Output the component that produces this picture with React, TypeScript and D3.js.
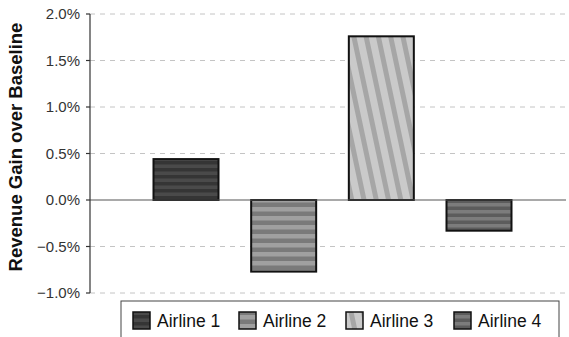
import React from "react";
import * as d3 from "d3";

const airlines = ["Airline 1", "Airline 2", "Airline 3", "Airline 4"];
const gains = [0.44, -0.77, 1.76, -0.33];
const yTicks = [-1.0, -0.5, 0.0, 0.5, 1.0, 1.5, 2.0];

const W = 569;
const H = 337;

export default function App() {
  const y = d3.scaleLinear().domain([-1, 2]).range([293, 14]);
  const x = d3.scalePoint<string>().domain(airlines).range([186, 479]);
  const barW = 65;
  const axisX = 90;
  const rightX = 566;
  const fills = ["url(#p1)", "url(#p2)", "url(#p3)", "url(#p4)"];
  const legendX = [133, 239, 346, 454];
  const font = "Liberation Sans, Arial, sans-serif";

  return (
    <div style={{ position: "fixed", left: 0, top: 0 }}>
      <svg width={W} height={H} style={{ display: "block", background: "#fff" }}>
        <defs>
          <pattern id="p1" width="7" height="7" patternUnits="userSpaceOnUse">
            <rect width="7" height="7" fill="#353535" />
            <rect y="3.5" width="7" height="3.5" fill="#4a4a4a" />
          </pattern>
          <pattern id="p2" width="9" height="9" patternUnits="userSpaceOnUse">
            <rect width="9" height="9" fill="#a0a0a0" />
            <rect y="4.5" width="9" height="4.5" fill="#7a7a7a" />
          </pattern>
          <pattern id="p3" width="12" height="12" patternUnits="userSpaceOnUse" patternTransform="rotate(-12)">
            <rect width="12" height="12" fill="#cacaca" />
            <rect width="5" height="12" fill="#a6a6a6" />
          </pattern>
          <pattern id="p4" width="7" height="7" patternUnits="userSpaceOnUse">
            <rect width="7" height="7" fill="#7c7c7c" />
            <rect y="3.5" width="7" height="3.5" fill="#5c5c5c" />
          </pattern>
        </defs>

        {yTicks.filter((t) => t !== 0).map((t) => (
          <line
            key={"g" + t}
            x1={axisX}
            x2={rightX}
            y1={y(t)}
            y2={y(t)}
            stroke="#c4c4c4"
            strokeWidth={1}
            strokeDasharray="5 5"
          />
        ))}

        {airlines.map((a, i) => {
          const v = gains[i];
          const y0 = y(0);
          const y1 = y(v);
          return (
            <rect
              key={a}
              x={(x(a) as number) - barW / 2}
              y={Math.min(y0, y1)}
              width={barW}
              height={Math.abs(y1 - y0)}
              fill={fills[i]}
              stroke="#111"
              strokeWidth={2}
            />
          );
        })}

        <line x1={axisX} x2={rightX} y1={y(0)} y2={y(0)} stroke="#555" strokeWidth={1.2} />

        <line x1={axisX} x2={axisX} y1={y(2)} y2={y(-1)} stroke="#333" strokeWidth={1.2} />
        {yTicks.map((t) => (
          <g key={"t" + t}>
            <line x1={axisX - 4} x2={axisX} y1={y(t)} y2={y(t)} stroke="#333" strokeWidth={1.2} />
            <text
              x={80}
              y={y(t)}
              dy="0.35em"
              textAnchor="end"
              fontFamily={font}
              fontSize={15}
              fill="#333"
            >
              {d3.format(".1f")(t) + "%"}
            </text>
          </g>
        ))}

        <text
          transform={`translate(16,147) rotate(-90)`}
          textAnchor="middle"
          dy="0.35em"
          fontFamily={font}
          fontSize={18.5}
          fontWeight="bold"
          fill="#111"
        >
          Revenue Gain over Baseline
        </text>

        <rect x={121} y={301} width={438} height={50} fill="#fff" stroke="#444" strokeWidth={1} />
        {airlines.map((a, i) => (
          <g key={"l" + a}>
            <rect
              x={legendX[i]}
              y={312}
              width={17}
              height={17}
              fill={fills[i]}
              stroke="#111"
              strokeWidth={1.5}
            />
            <text
              x={legendX[i] + 24}
              y={321}
              dy="0.35em"
              fontFamily={font}
              fontSize={17.5}
              fill="#111"
            >
              {a}
            </text>
          </g>
        ))}
      </svg>
    </div>
  );
}
